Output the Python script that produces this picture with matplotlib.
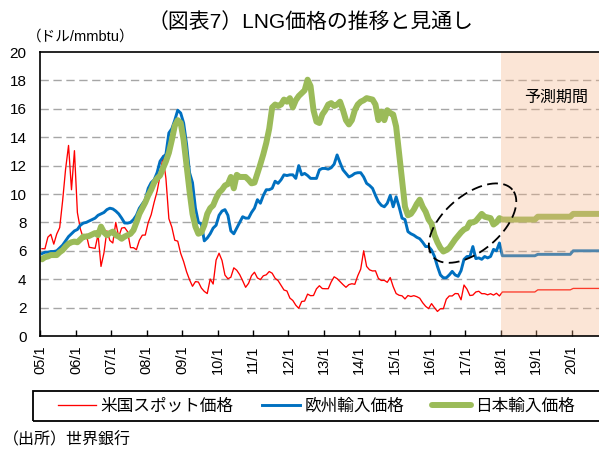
import numpy as np
import matplotlib
matplotlib.use("Agg")
import matplotlib.pyplot as plt
from matplotlib.patches import Rectangle

plt.rcParams['font.family'] = ['Liberation Sans', 'Noto Sans CJK JP', 'DejaVu Sans']

# ---- data (monthly, 2005/1 - 2017/12) ----
start_year = 2005
us_spot = [
    6.15, 6.14, 6.96, 7.16, 6.47, 7.18, 7.63, 9.53, 11.75, 13.42, 10.30, 13.05,
    8.69, 7.54, 6.89, 7.16, 6.25, 6.21, 6.17, 7.14, 4.90, 5.85, 7.41, 6.73,
    6.55, 8.00, 6.98, 7.60, 7.64, 7.35, 6.22, 6.22, 6.08, 6.74, 7.10, 7.11,
    7.99, 8.54, 9.41, 10.18, 11.27, 12.69, 11.09, 8.26, 7.67, 6.74, 6.68, 5.82,
    5.24, 4.52, 3.96, 3.50, 3.83, 3.80, 3.38, 3.14, 2.99, 4.01, 3.66, 5.35,
    5.83, 5.32, 4.29, 4.03, 4.14, 4.80, 4.63, 4.32, 3.89, 3.43, 3.71, 4.25,
    4.49, 4.09, 3.97, 4.24, 4.31, 4.54, 4.42, 4.06, 3.90, 3.57, 3.24, 3.17,
    2.67, 2.50, 2.17, 1.95, 2.43, 2.46, 2.95, 2.84, 2.85, 3.32, 3.54, 3.34,
    3.33, 3.33, 3.81, 4.17, 4.04, 3.83, 3.62, 3.43, 3.62, 3.68, 3.64, 4.24,
    4.71, 6.00, 4.90, 4.66, 4.58, 4.59, 4.05, 3.91, 3.92, 3.78, 4.12, 3.48,
    2.99, 2.87, 2.83, 2.61, 2.85, 2.78, 2.84, 2.77, 2.66, 2.34, 2.09, 1.93,
    2.28, 1.99, 1.73, 1.92, 1.92, 2.59, 2.82, 2.82, 2.99, 2.98, 2.55, 3.59,
    3.30, 2.85, 2.88, 3.10, 3.15, 2.98, 2.98, 2.90, 2.98, 2.88, 3.01, 2.82,
]
europe = [
    5.8, 5.9, 5.9, 5.95, 5.95, 6.0, 6.2, 6.4, 6.7, 7.0, 7.2, 7.4,
    7.5, 7.8, 7.95, 8.0, 8.1, 8.2, 8.3, 8.5, 8.6, 8.7, 8.9, 9.0,
    8.95, 8.8, 8.6, 8.3, 7.96, 7.95, 8.0, 8.2, 8.5, 9.0, 9.3, 9.6,
    10.4, 10.8, 11.0, 11.5, 12.3, 12.6, 12.8, 14.3, 14.6, 15.2, 15.9, 15.7,
    15.0, 13.5, 11.5, 10.8, 9.0, 8.0, 7.9, 6.7, 6.9, 7.2, 7.6, 7.8,
    8.5, 8.8, 8.9, 8.5, 7.4, 7.2, 7.6, 8.0, 8.4, 8.3, 8.3, 8.7,
    9.0, 9.6, 9.35, 9.9, 10.3, 10.3, 10.4, 10.9, 10.75, 11.0, 11.35, 11.3,
    11.35, 11.35, 11.1, 12.0, 11.35, 11.45, 11.3, 11.1, 11.1, 11.1, 11.7, 11.8,
    11.8, 11.75, 11.85, 12.1, 12.75, 12.2, 11.7, 11.45, 11.2, 11.3, 11.45, 11.5,
    11.5, 11.2, 10.75, 10.6, 10.4, 9.9, 9.45, 9.2, 9.1, 9.35, 9.9, 9.1,
    9.8, 9.1, 8.3, 8.2, 7.35, 7.2, 7.1, 6.95, 6.85, 6.6, 6.3, 6.3,
    6.05, 5.6, 4.9, 4.3, 4.1, 4.1, 4.3, 4.55, 4.3, 4.2, 4.6, 5.4,
    5.6, 5.6, 6.3, 5.45, 5.5, 5.4, 5.6, 5.5, 5.6, 6.1, 6.0, 6.55,
]
japan = [
    5.4, 5.55, 5.6, 5.7, 5.7, 5.7, 5.9, 6.05, 6.3, 6.5, 6.6, 6.65,
    6.6, 6.8, 7.0, 7.0, 7.05, 7.15, 7.25, 7.1, 7.7, 7.3, 7.1, 7.25,
    7.35, 7.1, 7.0, 6.85, 7.0, 7.1, 7.2, 7.45, 8.0, 8.6, 9.0, 9.4,
    9.9, 10.3, 10.8, 11.1, 11.3, 11.8, 12.3, 12.9, 13.8, 14.8, 15.2, 15.0,
    13.8, 12.0, 10.2, 8.6, 7.7, 7.2, 7.3, 7.8, 8.6, 9.0, 9.2, 9.7,
    10.1, 10.3, 10.6, 10.7, 11.2, 10.4, 11.35, 11.2, 11.2, 11.2, 11.0, 10.75,
    10.8, 11.45, 12.1, 12.8, 13.6, 14.6, 16.1, 16.3, 16.2, 16.3, 16.65, 16.5,
    16.75, 16.1, 16.6, 16.9, 17.1, 17.3, 18.05, 17.6, 15.9, 15.1, 15.0, 15.6,
    15.9, 16.3, 16.4, 16.2, 16.3, 16.5, 15.9, 15.2, 14.9, 15.2, 15.9, 16.3,
    16.5, 16.6, 16.75, 16.7, 16.65, 16.3, 15.2, 15.8, 15.2, 15.9, 15.7, 15.6,
    14.75, 12.9, 11.0, 9.1, 8.5, 8.6, 8.9, 9.3, 9.6, 9.1, 8.75, 8.2,
    7.9, 7.1, 6.6, 6.2, 5.95, 6.05, 6.2, 6.5, 6.8, 7.05, 7.3, 7.5,
    7.6, 8.0, 8.0, 8.1, 8.35, 8.6, 8.4, 8.35, 8.3, 7.85, 8.0, 8.3,
]
# ---- forecast (annual) ----
fc_years = [2018, 2019, 2020]
us_fc = [3.1, 3.25, 3.35]
eu_fc = [5.65, 5.75, 6.0]
jp_fc = [8.2, 8.4, 8.6]

labels = ['米国スポット価格', '欧州輸入価格', '日本輸入価格']
tick_years = list(range(2005, 2021))

n = len(us_spot)
hist_x = start_year + (np.arange(n) + 0.5) / 12.0
fc_x = np.array([[y + 0.5 / 12, y + 11.5 / 12] for y in fc_years]).ravel()


def full(hist, fc):
    return np.concatenate([hist, np.repeat(fc, 2)])


x_all = np.concatenate([hist_x, fc_x])

fig = plt.figure(figsize=(5.99, 4.5), dpi=100)
ax = fig.add_axes([40.5 / 599, 1 - 336 / 450, 1 - 40.5 / 599, (336 - 52) / 450])

l1, = ax.plot(x_all, full(us_spot, us_fc), color='#FF0000', lw=0.95, zorder=3)
l2, = ax.plot(x_all, full(europe, eu_fc), color='#0070C0', lw=2.1, zorder=3)
l3, = ax.plot(x_all, full(japan, jp_fc), color='#9BBB59', lw=4.3, zorder=4,
              solid_capstyle='round', solid_joinstyle='round')

ax.set_xlim(2005.0, 2020.77)
ax.set_ylim(0, 20)
ax.set_yticks(range(0, 21, 2))
for v in range(2, 20, 2):
    ax.axhline(v, color='#A6A6A6', lw=1.0, ls=(0, (6, 3.3)), zorder=1)

ax.axvspan(2018.0, 2021.0, color='#F4B183', alpha=0.33, lw=0, zorder=5)
ax.text(2019.55, 16.8, '予測期間', fontsize=11.5, ha='center', va='center', zorder=7)

ax.set_xticks(tick_years)
ax.set_xticklabels([f"{y % 100:02d}/1" for y in tick_years], rotation=90, fontsize=10.5)
ax.tick_params(axis='x', direction='in', length=4, width=1, pad=7)
ax.tick_params(axis='y', length=0, pad=10, labelsize=11)

for s in ['left', 'bottom', 'top']:
    ax.spines[s].set_linewidth(1.2)
    ax.spines[s].set_zorder(10)
ax.spines['right'].set_visible(False)

# dashed ellipse (annotation) drawn in pixel space around 2016-2017
ell_center = (2017.2, 7.95)
cx, cy = ax.transData.transform(ell_center)
t = np.linspace(0, 2 * np.pi, 300)
a, b, ang = 52, 28, np.deg2rad(40)
px = cx + a * np.cos(t) * np.cos(ang) - b * np.sin(t) * np.sin(ang)
py = cy + a * np.cos(t) * np.sin(ang) + b * np.sin(t) * np.cos(ang)
ed = ax.transData.inverted().transform(np.column_stack([px, py]))
ax.plot(ed[:, 0], ed[:, 1], color='black', lw=1.3, ls=(0, (6, 3)), zorder=6, clip_on=False)

fig.text(311 / 599, 1 - 22 / 450, '（図表7）LNG価格の推移と見通し', fontsize=15,
         ha='center', va='center')
fig.text(27 / 599, 1 - 37 / 450, '（ドル/mmbtu）', fontsize=10.5, ha='left', va='center')
fig.text(3 / 599, 1 - 440 / 450, '（出所）世界銀行', fontsize=11.5, ha='left', va='center')

# legend frame (extends past the right edge as in the reference)
fig.patches.append(Rectangle((33 / 599, 1 - 421 / 450), 600 / 599, 30 / 450,
                             fill=False, ec='black', lw=1.3, transform=fig.transFigure))
leg = fig.legend([l1, l2, l3], labels, loc='center left',
                 bbox_to_anchor=(58 / 599, 1 - 406 / 450),
                 ncol=3, frameon=False, fontsize=12, handlelength=2.3,
                 handletextpad=0.25, columnspacing=1.7, borderaxespad=0, borderpad=0)

fig.savefig('out.png', dpi=100)
